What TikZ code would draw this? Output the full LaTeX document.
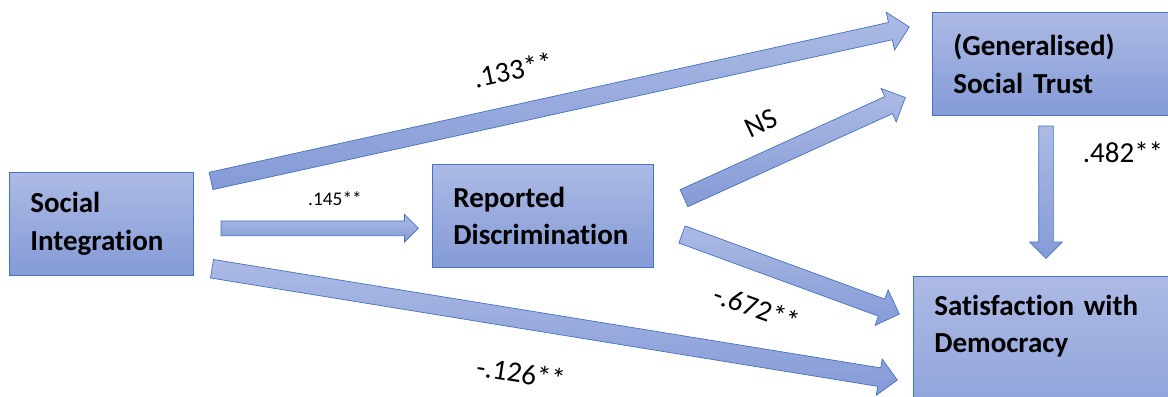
\documentclass[tikz,border=0pt]{standalone}
\usepackage{fontspec}
\setmainfont{Carlito}[Ligatures=NoCommon]
\usetikzlibrary{calc,shapes.arrows}

\definecolor{boxtop}{RGB}{172,186,228}
\definecolor{boxbottom}{RGB}{133,155,215}
\definecolor{boxline}{RGB}{68,114,196}

% name, from, to, half shaft width, head extend
\newcommand\blockarrow[5]{%
  \path let \p1=($(#3)-(#2)$), \n1={atan2(\y1,\x1)}, \n2={veclen(\x1,\y1)} in
    node[barrow, anchor=tail, rotate=\n1, minimum height=\n2,
         inner ysep=#4, single arrow head extend=#5] (#1) at (#2) {};}

\begin{document}
\begin{tikzpicture}[x=0.02cm,y=-0.02cm,
  box/.style={rectangle, draw=boxline, top color=boxtop, bottom color=boxbottom,
    align=left, inner xsep=0.42cm, anchor=north west,
    font=\fontsize{16.5}{21.3}\selectfont\bfseries},
  barrow/.style={single arrow, draw=boxline, top color=boxtop, bottom color=boxbottom,
    inner xsep=0pt, minimum width=0pt},
  lbl/.style={font=\fontsize{16.5}{20}\selectfont, inner sep=0pt},
  smalllbl/.style={font=\fontsize{11}{13}\selectfont, inner sep=0pt}]

\useasboundingbox (0,0) rectangle (1168,396);
\clip (0,0) rectangle (1168,396);

\node[box, text width=2.84cm, minimum height=2.06cm] (integ) at (9,172) {Social\\Integration};
\node[box, text width=3.58cm, minimum height=2.06cm] (discr) at (432,164) {Reported\\Discrimination};
\node[box, text width=4.36cm, minimum height=2.06cm] (trust) at (932,12) {(Generalised)\\Social Trust};
\node[box, text width=4.76cm, inner ysep=0.38cm, text height=0.4cm, text depth=2.5cm] (satis) at (913,276) {Satisfaction with\\Democracy};

\coordinate (i1) at ([shift={(17,9)}]integ.north east);
\coordinate (i2) at ([shift={(27,4.5)}]integ.east);
\coordinate (i3) at ([shift={(18,-7)}]integ.south east);
\coordinate (d0) at ([shift={(-14,12.5)}]discr.west);
\coordinate (d1) at ([shift={(30,-17.5)}]discr.east);
\coordinate (d2) at ([shift={(28,18.5)}]discr.east);
\coordinate (t0) at ([shift={(-23,15)}]trust.north west);
\coordinate (t1) at ([shift={(-27,-18)}]trust.south west);
\coordinate (t2) at ([shift={(114,10)}]trust.south west);
\coordinate (s0) at ([shift={(133,-18)}]satis.north west);
\coordinate (s1) at ([shift={(-14,38)}]satis.north west);
\coordinate (s2) at ([shift={(-16,104)}]satis.north west);

\blockarrow{integtrust}{i1}{t0}{0.17cm}{0.21cm}
\blockarrow{integdiscr}{i2}{d0}{0.14cm}{0.13cm}
\blockarrow{integsatis}{i3}{s2}{0.18cm}{0.18cm}
\blockarrow{discrtrust}{d1}{t1}{0.18cm}{0.18cm}
\blockarrow{discrsatis}{d2}{s1}{0.175cm}{0.195cm}
\blockarrow{trustsatis}{t2}{s0}{0.14cm}{0.18cm}

\node[lbl, rotate=12.4] (l133) at (513,70) {.133**};
\node[smalllbl] (l145) at (335,199) {.145**};
\node[lbl, rotate=25] (lns) at (761,123) {NS};
\node[lbl, rotate=-20] (l672) at (757,308) {-.672**};
\node[lbl, rotate=-9] (l126) at (521,373) {-.126**};
\node[lbl] (l482) at (1123,152) {.482**};
\end{tikzpicture}
\end{document}
